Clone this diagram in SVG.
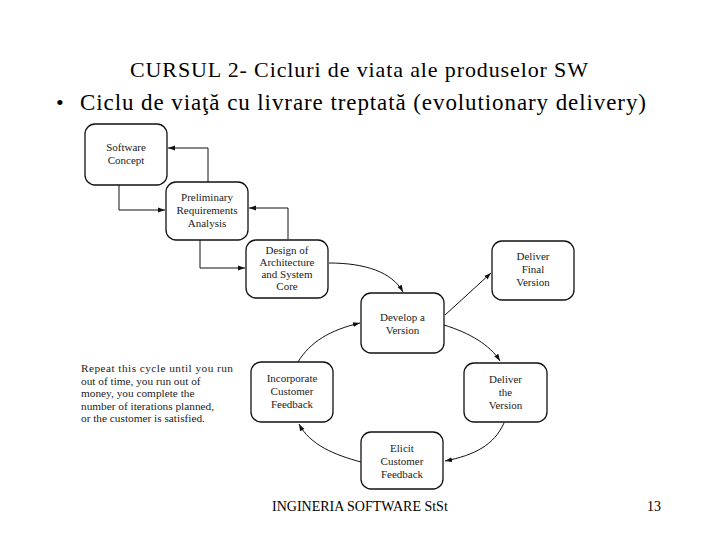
<svg xmlns="http://www.w3.org/2000/svg" width="720" height="540" viewBox="0 0 720 540">
<defs>
<style>
.box{fill:#fff;stroke:#111;stroke-width:1.3}
.bt{font-family:"Liberation Serif",serif;font-size:11px;fill:#222;text-anchor:middle}
.c{fill:none;stroke:#111;stroke-width:1}
.hd{font-family:"Liberation Serif",serif;font-size:22px;fill:#000}
.ft{font-family:"Liberation Serif",serif;font-size:14px;fill:#000}
.note{font-family:"Liberation Serif",serif;font-size:11.3px;fill:#222}
</style>
<marker id="ah" viewBox="0 0 10 10" refX="10" refY="5" markerWidth="7" markerHeight="7" orient="auto-start-reverse">
<path d="M0,1.5 L10,5 L0,8.5 z" fill="#111"/>
</marker>
</defs>
<rect width="720" height="540" fill="#fff"/>
<text class="hd" x="130" y="77" textLength="458" lengthAdjust="spacing">CURSUL 2- Cicluri de viata ale produselor SW</text>
<text class="hd" x="56" y="110">•</text>
<text class="hd" x="80" y="110" style="font-size:23px" textLength="566" lengthAdjust="spacing">Ciclu de viaţă cu livrare treptată (evolutionary delivery)</text>

<g id="connectors">
<path class="c" d="M119,185 V210 H165" marker-end="url(#ah)"/>
<path class="c" d="M208,182 V148 H168" marker-end="url(#ah)"/>
<path class="c" d="M200,240 V268 H245" marker-end="url(#ah)"/>
<path class="c" d="M288,239 V208 H249" marker-end="url(#ah)"/>
<path class="c" d="M329,263 C365,263 392,272 403,292" marker-end="url(#ah)"/>
<path class="c" d="M445,315 L491,273" marker-end="url(#ah)"/>
<path class="c" d="M444,325 C470,333 490,345 500,361" marker-end="url(#ah)"/>
<path class="c" d="M504,423 C494,445 475,455 445,461" marker-end="url(#ah)"/>
<path class="c" d="M361,462 C335,455 310,445 299,424" marker-end="url(#ah)"/>
<path class="c" d="M298,362 C310,342 330,330 360,323" marker-end="url(#ah)"/>
</g>

<g id="software-concept">
<rect class="box" x="85" y="124" width="82" height="61" rx="10"/>
<text class="bt" x="126" y="151">Software</text>
<text class="bt" x="126" y="164">Concept</text>
</g>
<g id="preliminary-requirements">
<rect class="box" x="166" y="182" width="82" height="58" rx="10"/>
<text class="bt" x="207" y="201">Preliminary</text>
<text class="bt" x="207" y="214">Requirements</text>
<text class="bt" x="207" y="227">Analysis</text>
</g>
<g id="design-architecture">
<rect class="box" x="246" y="240" width="82" height="58" rx="10"/>
<text class="bt" x="287" y="254">Design of</text>
<text class="bt" x="287" y="266">Architecture</text>
<text class="bt" x="287" y="278">and System</text>
<text class="bt" x="287" y="290">Core</text>
</g>
<g id="develop-version">
<rect class="box" x="361" y="293" width="83" height="60" rx="10"/>
<text class="bt" x="402.5" y="321">Develop a</text>
<text class="bt" x="402.5" y="334">Version</text>
</g>
<g id="deliver-final">
<rect class="box" x="492" y="241" width="82" height="59" rx="10"/>
<text class="bt" x="533" y="260">Deliver</text>
<text class="bt" x="533" y="273">Final</text>
<text class="bt" x="533" y="286">Version</text>
</g>
<g id="incorporate-feedback">
<rect class="box" x="251" y="362" width="82" height="60" rx="10"/>
<text class="bt" x="292" y="382">Incorporate</text>
<text class="bt" x="292" y="395">Customer</text>
<text class="bt" x="292" y="408">Feedback</text>
</g>
<g id="deliver-version">
<rect class="box" x="464" y="363" width="83" height="59" rx="10"/>
<text class="bt" x="505.5" y="383">Deliver</text>
<text class="bt" x="505.5" y="396">the</text>
<text class="bt" x="505.5" y="409">Version</text>
</g>
<g id="elicit-feedback">
<rect class="box" x="361" y="432" width="82" height="57" rx="10"/>
<text class="bt" x="402" y="452">Elicit</text>
<text class="bt" x="402" y="465">Customer</text>
<text class="bt" x="402" y="478">Feedback</text>
</g>

<g id="note">
<text class="note" x="81" y="372" textLength="152" lengthAdjust="spacing">Repeat this cycle until you run</text>
<text class="note" x="81" y="384.5">out of time, you run out of</text>
<text class="note" x="81" y="397">money, you complete the</text>
<text class="note" x="81" y="409.5">number of iterations planned,</text>
<text class="note" x="81" y="422">or the customer is satisfied.</text>
</g>

<text class="ft" x="272" y="511">INGINERIA SOFTWARE StSt</text>
<text class="ft" x="647" y="511">13</text>
</svg>
